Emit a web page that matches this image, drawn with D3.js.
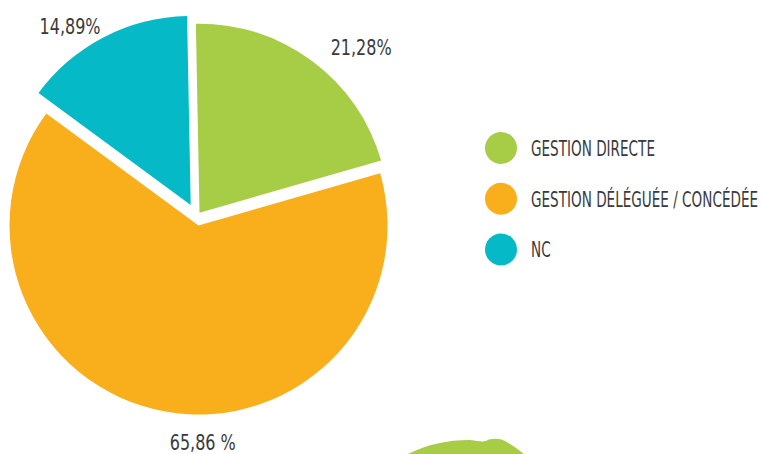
<!DOCTYPE html>
<html>
<head>
<meta charset="utf-8">
<script src="https://cdn.jsdelivr.net/npm/d3@7"></script>
<style>
  html, body { margin: 0; padding: 0; background: #fff; }
  svg { display: block; }
</style>
</head>
<body>
<script>
// data
const categories = ['GESTION DIRECTE', 'GESTION DÉLÉGUÉE / CONCÉDÉE', 'NC'];
const values = [21.28, 65.86, 14.89];
const valueLabels = ['21,28%', '65,86 %', '14,89%'];
const colors = ['#a7cc45', '#f9ae1b', '#06b9c6'];

const width = 762;
const height = 454;
const center = {x: 198.5, y: 225.5};
const radius = 189;
const font = '"DejaVu Sans Condensed", "Liberation Sans", sans-serif';

// how far each slice is pulled away from the middle
const explode = [[1, -12.8], [0, 0], [-7.8, -20.5]];
// small nudges for the value labels
const labelNudge = [[29, 3], [44, -4], [-25, 1]];

const svg = d3.create('svg')
  .attr('width', width)
  .attr('height', height);
document.body.append(svg.node());

const startAngle = -1.1 * Math.PI / 180;
const pie = d3.pie()
  .sort(null)
  .startAngle(startAngle)
  .endAngle(startAngle + 2 * Math.PI);

const arcs = pie(values);
const arc = d3.arc().innerRadius(0).outerRadius(radius);
const labelArc = d3.arc().innerRadius(225).outerRadius(225);

const chart = svg.append('g')
  .attr('transform', `translate(${center.x}, ${center.y})`);

chart.selectAll('path')
  .data(arcs)
  .join('path')
  .attr('d', arc)
  .attr('fill', (d, i) => colors[i])
  .attr('transform', (d, i) => `translate(${explode[i][0]}, ${explode[i][1]})`);

// value labels, squeezed so that they look like the narrow face of the original
const labels = chart.selectAll('g.label')
  .data(arcs)
  .join('g')
  .attr('class', 'label')
  .attr('transform', (d, i) => {
    const c = labelArc.centroid(d);
    return `translate(${c[0] + labelNudge[i][0]}, ${c[1] + labelNudge[i][1]})`;
  });

const labelText = labels.append('text')
  .attr('dy', '0.35em')
  .attr('text-anchor', 'middle')
  .attr('font-family', font)
  .attr('font-size', 21)
  .attr('fill', '#3a3a3a')
  .text((d, i) => valueLabels[i]);

const labelScale = 61 / labelText.filter((d, i) => i == 2).node().getComputedTextLength();
labelText.attr('transform', `scale(${labelScale}, 1)`);

// legend
const legendY = d3.scalePoint(categories, [148, 249.5]);
const legend = svg.append('g')
  .selectAll('g')
  .data(categories)
  .join('g')
  .attr('transform', d => `translate(501, ${legendY(d)})`);

legend.append('circle')
  .attr('r', 16)
  .attr('fill', (d, i) => colors[i]);

const legendText = legend.append('text')
  .attr('dy', '0.36em')
  .attr('font-family', font)
  .attr('font-size', 22)
  .attr('fill', '#3a3a3a')
  .text(d => d);

const legendScale = 124 / legendText.node().getComputedTextLength();
legendText.attr('transform', `translate(30, 0) scale(${legendScale}, 1)`);

// decorative green hill cut off at the bottom
svg.append('path')
  .attr('d', 'M404,456 C425,445 445,440 470,440 C478,441 482,442 486,441 C490,438 500,438 505,441 C512,445 520,450 526,456 Z')
  .attr('fill', '#a7cc45');
</script>
</body>
</html>
